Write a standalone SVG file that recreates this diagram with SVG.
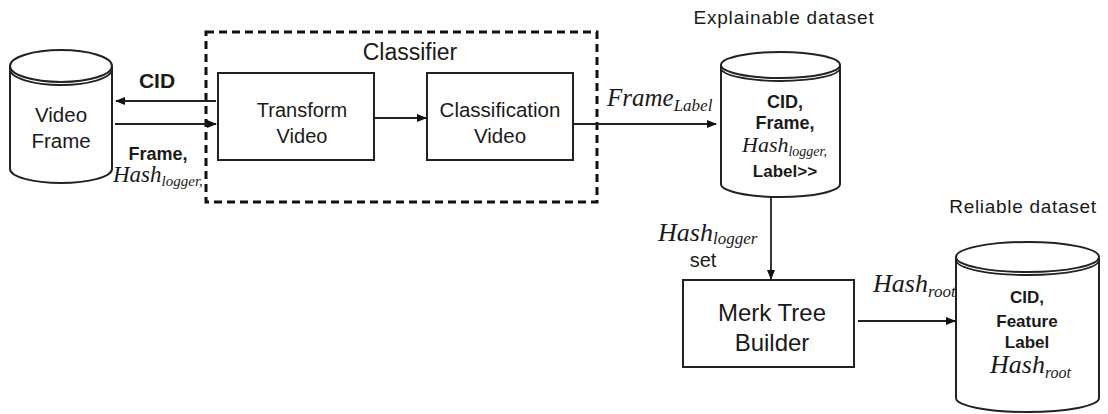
<svg xmlns="http://www.w3.org/2000/svg" width="1108" height="414" viewBox="0 0 1108 414">
<defs>
<marker id="ah" markerWidth="10" markerHeight="8" refX="9" refY="4" orient="auto" markerUnits="userSpaceOnUse">
<path d="M0,0 L10,4 L0,8 Z" fill="#111"/>
</marker>
<style>
.box{fill:#fff;stroke:#222;stroke-width:2}
.cyl{fill:#fff;stroke:#222;stroke-width:2}
.edge{fill:none;stroke:#222;stroke-width:1.8}
.sans{font-family:"Liberation Sans",Arial,sans-serif;fill:#1a1a1a}
.b{font-weight:bold}
.m{font-family:"Liberation Serif","Times New Roman",serif;font-style:italic;fill:#1a1a1a}
</style>
</defs>
<rect width="1108" height="414" fill="#fff"/>

<g id="video-frame">
<path class="cyl" d="M10,66 L10,169 A51,14 0 0 0 112,169 L112,66"/>
<ellipse class="cyl" cx="61" cy="66" rx="51" ry="16"/>
<path class="edge" d="M10,69 A51,16 0 0 0 112,69"/>
<text class="sans" x="61" y="122" font-size="20.5" text-anchor="middle">Video</text>
<text class="sans" x="61" y="148" font-size="20.5" text-anchor="middle">Frame</text>
</g>

<g id="classifier">
<rect x="206" y="32" width="391" height="170" fill="none" stroke="#111" stroke-width="3" stroke-dasharray="8 5"/>
<text class="sans" x="410" y="60" font-size="23" text-anchor="middle">Classifier</text>
</g>

<g id="transform-video">
<rect class="box" x="218" y="73" width="156" height="87"/>
<text class="sans" x="302" y="117" font-size="20" text-anchor="middle">Transform</text>
<text class="sans" x="302" y="143" font-size="20" text-anchor="middle">Video</text>
</g>

<g id="classification-video">
<rect class="box" x="427" y="73" width="146" height="87"/>
<text class="sans" x="500" y="117" font-size="20.5" text-anchor="middle">Classification</text>
<text class="sans" x="500" y="143" font-size="20.5" text-anchor="middle">Video</text>
</g>

<g id="explainable-dataset">
<text class="sans" x="784" y="24" font-size="19" letter-spacing="0.8" text-anchor="middle">Explainable  dataset</text>
<path class="cyl" d="M721,65 L721,184 A59.5,13 0 0 0 840,184 L840,65"/>
<ellipse class="cyl" cx="780.5" cy="65" rx="59.5" ry="13"/>
<path class="edge" d="M721,68 A59.5,13 0 0 0 840,68"/>
<text class="sans b" x="785" y="108" font-size="18" text-anchor="middle">CID,</text>
<text class="sans b" x="785" y="129" font-size="18" text-anchor="middle">Frame,</text>
<text class="m" x="742" y="152" font-size="22">Hash<tspan font-size="14" dy="4">logger</tspan><tspan font-size="14">,</tspan></text>
<text class="sans b" x="785" y="177" font-size="17" text-anchor="middle">Label&gt;&gt;</text>
</g>

<g id="merk-tree-builder">
<rect class="box" x="683" y="280" width="171" height="87"/>
<text class="sans" x="772" y="321" font-size="24" text-anchor="middle">Merk Tree</text>
<text class="sans" x="772" y="351" font-size="24" text-anchor="middle">Builder</text>
</g>

<g id="reliable-dataset">
<text class="sans" x="1023" y="213" font-size="19" letter-spacing="0.7" text-anchor="middle">Reliable  dataset</text>
<path class="cyl" d="M956,257 L956,398 A71.5,14 0 0 0 1099,398 L1099,257"/>
<ellipse class="cyl" cx="1027.5" cy="257" rx="71.5" ry="15"/>
<path class="edge" d="M956,260 A71.5,15 0 0 0 1099,260"/>
<text class="sans b" x="1027" y="303" font-size="17" text-anchor="middle">CID,</text>
<text class="sans b" x="1027" y="327" font-size="17" text-anchor="middle">Feature</text>
<text class="sans b" x="1027" y="348" font-size="17" text-anchor="middle">Label</text>
<text class="m" x="990" y="373" font-size="26">Hash<tspan font-size="16" dy="5">root</tspan></text>
</g>

<g id="connectors">
<line class="edge" x1="216" y1="101" x2="116" y2="101" marker-end="url(#ah)"/>
<line class="edge" x1="115" y1="124" x2="216" y2="124" marker-end="url(#ah)"/>
<line class="edge" x1="374" y1="118" x2="426" y2="118" marker-end="url(#ah)"/>
<line class="edge" x1="573" y1="124" x2="716" y2="124" marker-end="url(#ah)"/>
<line class="edge" x1="771" y1="198" x2="771" y2="279" marker-end="url(#ah)"/>
<line class="edge" x1="858" y1="321" x2="955" y2="321" marker-end="url(#ah)"/>
</g>

<g id="labels">
<text class="sans b" x="157" y="88" font-size="21" text-anchor="middle">CID</text>
<text class="sans b" x="158" y="160" font-size="18" text-anchor="middle">Frame,</text>
<text class="m" x="113" y="182" font-size="23">Hash<tspan font-size="15" dy="4">logger</tspan><tspan font-size="15">,</tspan></text>
<text class="m" x="607" y="106" font-size="25">Frame<tspan font-size="17" dy="5">Label</tspan></text>
<text class="m" x="658" y="241" font-size="26">Hash<tspan font-size="17" dy="3">logger</tspan></text>
<text class="sans" x="703" y="267" font-size="20" text-anchor="middle">set</text>
<text class="m" x="873" y="292" font-size="26">Hash<tspan font-size="17" dy="5">root</tspan></text>
</g>
</svg>
